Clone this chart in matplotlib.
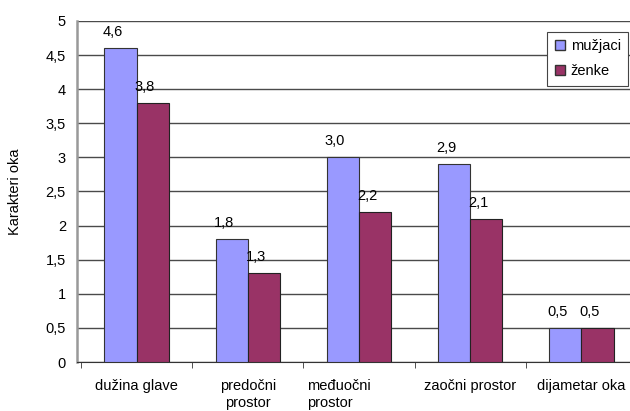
import matplotlib
matplotlib.use('Agg')
import matplotlib.pyplot as plt
from matplotlib.patches import Patch
from matplotlib.transforms import ScaledTranslation
import numpy as np

plt.rcParams['font.family'] = ['Liberation Sans', 'DejaVu Sans']

categories = ['dužina glave', 'predočni\nprostor', 'međuočni\nprostor', 'zaočni prostor', 'dijametar oka']
muzjaci = [4.6, 1.8, 3.0, 2.9, 0.5]
zenke = [3.8, 1.3, 2.2, 2.1, 0.5]
yticks = [0, 0.5, 1, 1.5, 2, 2.5, 3, 3.5, 4, 4.5, 5]
ytick_labels = ['0', '0,5', '1', '1,5', '2', '2,5', '3', '3,5', '4', '4,5', '5']

blue = '#9999FF'
red = '#993366'
fs = 10.5

fig = plt.figure(figsize=(6.30, 4.11), dpi=100)
ax = fig.add_axes([77 / 630, (411 - 362) / 411, (637 - 77) / 630, (362 - 21) / 411])

x = np.arange(len(categories))
w = 0.29
b1 = ax.bar(x - w / 2, muzjaci, w, color=blue, edgecolor='#333333', linewidth=0.8, zorder=3)
b2 = ax.bar(x + w / 2, zenke, w, color=red, edgecolor='#222222', linewidth=0.8, zorder=3)

for bars, vals in ((b1, muzjaci), (b2, zenke)):
    for rect, v in zip(bars, vals):
        ax.annotate(f'{v:.1f}'.replace('.', ','),
                    (rect.get_x() + rect.get_width() / 2, rect.get_height()),
                    xytext=(-8, 16), textcoords='offset pixels',
                    ha='center', va='center', fontsize=fs, zorder=4)

ax.set_xlim(-0.536, 4.5)
ax.set_ylim(0, 5)
ax.set_yticks(yticks)
ax.set_yticklabels(ytick_labels, fontsize=fs)
ax.tick_params(axis='y', length=0, pad=8)
ax.yaxis.grid(True, color='#4a4a4a', linewidth=1, zorder=0)

ax.set_xticks(x)
ax.set_xticklabels(categories, fontsize=fs, linespacing=1.3)
ax.tick_params(axis='x', which='major', length=0, pad=12)
ax.set_xticks(np.arange(len(categories) + 1) - 0.5, minor=True)
ax.tick_params(axis='x', which='minor', length=4, direction='out', color='#333333')
lbl = ax.get_xticklabels()[2]
lbl.set_transform(lbl.get_transform() + ScaledTranslation(-0.20, 0, fig.dpi_scale_trans))
lbl.set_multialignment('left')

ax.spines['top'].set_visible(False)
ax.spines['right'].set_visible(False)
ax.spines['left'].set_color('#999999')
ax.spines['left'].set_linewidth(1.8)
ax.spines['bottom'].set_color('#333333')

ax.set_ylabel('Karakteri oka', fontsize=fs, labelpad=17)

handles = [Patch(facecolor=blue, edgecolor='#333333', label='mužjaci'),
           Patch(facecolor=red, edgecolor='#333333', label='ženke')]
leg = fig.legend(handles=handles, loc='upper right',
                 bbox_to_anchor=(628 / 630, (411 - 32) / 411),
                 fontsize=fs, fancybox=False, framealpha=1, edgecolor='#444444',
                 handlelength=0.7, handleheight=0.7, handletextpad=0.4,
                 labelspacing=0.75, borderpad=0.5, borderaxespad=0)
leg.get_frame().set_linewidth(0.8)

fig.savefig('out.png', dpi=100)
